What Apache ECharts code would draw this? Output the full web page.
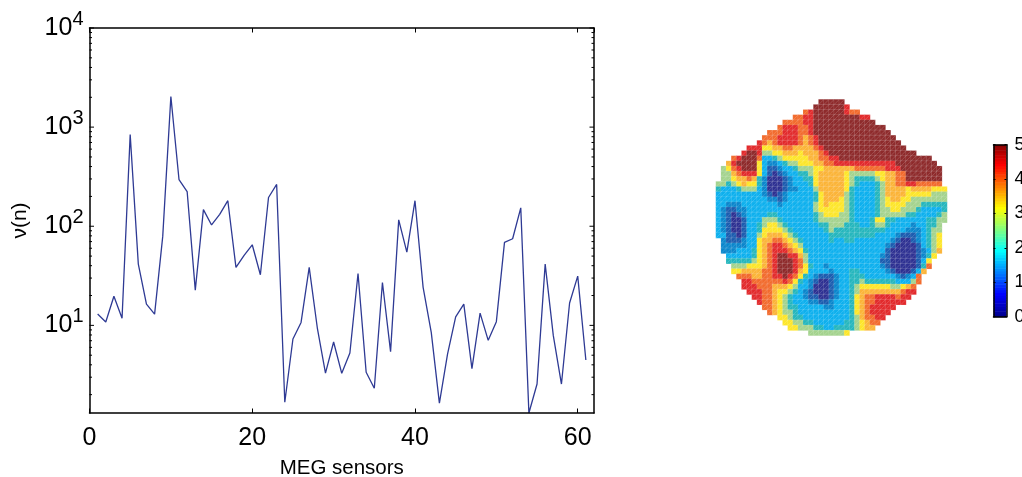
<!DOCTYPE html>
<html><head><meta charset="utf-8">
<style>html,body{margin:0;padding:0;background:#fff}#c{width:1022px;height:477px}</style>
<script src="https://cdn.jsdelivr.net/npm/echarts@6/dist/echarts.min.js"></script>
</head><body><div id="c"></div>
<script>
const sensors = [1,2,3,4,5,6,7,8,9,10,11,12,13,14,15,16,17,18,19,20,21,22,23,24,25,26,27,28,29,30,31,32,33,34,35,36,37,38,39,40,41,42,43,44,45,46,47,48,49,50,51,52,53,54,55,56,57,58,59,60,61];
const nuValues = [13.0,10.8,19.7,11.8,842,41.5,16.4,13.0,79,2034,296,224,22.7,147,103,132,181,38.4,50.8,65,32.4,195,264,1.675,7.28,10.7,38.4,9.4,3.3,6.8,3.28,5.26,33.4,3.36,2.32,27.1,5.43,116,54.8,181,24.2,8.5,1.64,5.14,12.2,16.4,3.66,13.3,7.06,10.9,68.7,74.8,153.5,1.306,2.56,41.5,7.87,2.56,16.8,31.4,4.47];
const yMajorTicks = [10,100,1000,10000];
const yMinorTicks = [2,3,4,5,6,7,8,9,20,30,40,50,60,70,80,90,200,300,400,500,600,700,800,900,2000,3000,4000,5000,6000,7000,8000,9000];
const xMin = 0, xMax = 62, yMin = 1.306, yMax = 10000;
// Cell levels of the sensor map, one string per row (. = no cell, spaces only group the text)
const heatRows = [
"....................aaaaa",
"...................aaaaaa9",
".................89aaaaaa988",
"...............8899aaaaaaaaa99",
".............888899aaaaaaaaaaaa",
"............8999889aaaaaaaaaaaaaa",
"..........888 999 88 9 aaaaaaaaaaaaaaa",
".........888 9999 878 9 aaaaaaaaaaaaaaa",
"........9878 9999 878 9 aaaaaaaaaaaaaaaa",
"......999 66 77 88 7777 8 9 aaaaaaaaaaaaaaaa",
".....9aa9 55 66 777 6 777 8 9 aaaaaaaaaaaaaaaaa",
"...89aaa8 33 45 66666 77 88 99 aaaaaaaaaaaaaaaaaa",
"..79aaaa6 322 34 55 666 77 88 999999999999 aaaaaaaa",
".5689aaa6 3112 33 4 555 66 777777 888888 999 aaaaaaaa",
".5578999 6 3 1012 33 44 5 6 77 777 6 55555 66 77 88 aaaaaaa",
".5567787 42 000 12 33 44 6 77 777 6 5 4444 5 6 77 88 aaaaaaa",
"55456 76642 00012 33346 77777 65433 34577 88998 8888",
"43334 55532 00012 23335 77777 64333 34577 77677 77666",
"33333 33332 10123 33334 67777 54333 34577 77666 66555",
"33333 33333 22123 33334 67776 54333 34567 76655 55555",
"33222 33333 33233 33335 67666 54333 34566 66555 44444",
"32112 23333 33333 33335 66666 54333 34556 65554 33334",
"32101 23333 44333 33334 56665 54333 34555 55443 33345",
"32100 13335 55433 33334 55555 54333 46644 33333 34455",
"32100 13345 66543 33333 44555 44433 45543 33323 3445",
"32100 13346 66654 33333 34544 44444 44433 33222 3455",
"33110 13356 77765 43333 33444 44444 43333 21112 3456",
".2111 23367 78876 54333 33433 44333 33332 10012 3456",
".2222 23367 89987 65333 33333 33333 33321 00001 3456",
".2223 33467 89998 76433 33333 33333 33310 00001 2357",
"..333 33467 89aa9 97533 33333 33333 33210 00001 246",
"..444 44567 89aaa 98533 33333 33333 33110 00001 36",
"...55 56667 89aaa 98643 32333 33333 33210 00001 48",
"...66 77778 89aaa 97633 33233 34433 33321 00013 7",
"....8 88778 899a9 86432 11123 34443 33333 21238",
"..... 99888 88898 64321 00123 34454 44444 33358",
"..... 99988 87776 53320 00123 34566 66665 5678",
"..... .9998 87665 43210 00123 34577 77777 7899",
"..... ..998 87654 33211 00123 34678 89999 899",
"..... ...98 87654 33322 11233 34678 89999 99",
"..... ....8 87654 43333 32233 34678 99999",
"..... ..... 87655 43333 33333 34678 9999",
"..... ..... ..665 44333 33333 34578 899",
"..... ..... ...66 55443 33333 44567 88",
"..... ..... ....6 65554 43344 44567 7",
"..... ..... ..... ...55 55555 6"
];
const levelValues = {'0':0,'1':0.5,'2':1,'3':1.5,'4':2,'5':2.5,'6':3,'7':3.5,'8':4,'9':4.5,'a':5};
const heatPalette = ['#2e3192','#1c5caf','#0a86cc','#0db0ee','#25b6bd','#a4d38e','#fde62a','#fbb438','#f26b2d','#e22a2c','#8e2a2b'];
const colorbarEdges = [0,0.08,0.16,0.23,0.31,0.39,0.47,0.55,0.63,0.70,0.78,0.86,0.94,1.02,1.09,1.17,1.25,1.33,1.41,1.48,1.56,1.64,1.72,1.80,1.88,1.95,2.03,2.11,2.19,2.27,2.34,2.42,2.50,2.58,2.66,2.73,2.81,2.89,2.97,3.05,3.13,3.20,3.28,3.36,3.44,3.52,3.59,3.67,3.75,3.83,3.91,3.98,4.06,4.14,4.22,4.30,4.38,4.45,4.53,4.61,4.69,4.77,4.84,4.92,5.00];
const jetStops = ['#00008f','#0000ff','#0080ff','#00ffff','#80ff80','#ffff00','#ff8000','#ff0000','#800000'];

const heatData = [];
heatRows.forEach((row, r) => {
  [...row.replace(/ /g, '')].forEach((ch, c) => {
    if (ch !== '.') heatData.push([c, r, levelValues[ch]]);
  });
});
const colCats = Array.from({length: 45}, (_, i) => String(i));
const rowCats = Array.from({length: 46}, (_, i) => String(i));
const cbData = colorbarEdges.slice(0, -1).map((lo, i) => [lo, colorbarEdges[i + 1]]);
const tickData = yMajorTicks.map(v => [v, 4.5]).concat(yMinorTicks.map(v => [v, 2.5]));
const font = '"Liberation Sans", Arial, sans-serif';
const axisLine = {show:true, onZero:false, lineStyle:{color:'#000', width:1.5}};

const option = {
  animation:false, backgroundColor:'#fff',
  textStyle:{fontFamily:font},
  grid:[
    {left:89.5, top:28, width:504.5, height:385, outerBoundsMode:'none'},
    {left:716, top:99.5, width:231, height:236, outerBoundsMode:'none'},
    {left:993.5, top:144.7, width:13, height:172, outerBoundsMode:'none'}
  ],
  xAxis:[
    {type:'value', gridIndex:0, min:xMin, max:xMax, interval:20, position:'bottom', z:5,
     name:'MEG sensors', nameLocation:'middle', nameGap:45, nameTextStyle:{fontSize:20.5, color:'#000', fontFamily:font},
     axisLine, axisTick:{inside:true, length:4.5, lineStyle:{color:'#000', width:1}},
     splitLine:{show:false}, axisLabel:{fontSize:25, color:'#000', margin:13, fontFamily:font, showMaxLabel:false,
       formatter:v => v === xMax ? '' : String(v)}},
    {type:'value', gridIndex:0, min:xMin, max:xMax, interval:20, position:'top', z:5,
     axisLine, axisTick:{inside:true, length:4.5, lineStyle:{color:'#000', width:1}},
     splitLine:{show:false}, axisLabel:{show:false}},
    {type:'category', gridIndex:1, data:colCats, show:false},
    {type:'value', gridIndex:2, min:0, max:1, position:'bottom', z:5, axisLine, axisTick:{show:false}, axisLabel:{show:false}, splitLine:{show:false}},
    {type:'value', gridIndex:2, min:0, max:1, position:'top', z:5, axisLine, axisTick:{show:false}, axisLabel:{show:false}, splitLine:{show:false}}
  ],
  yAxis:[
    {type:'log', logBase:10, gridIndex:0, min:yMin, max:yMax, position:'left', z:5,
     name:'\u03bd(n)', nameLocation:'middle', nameGap:59, nameTextStyle:{fontSize:21, color:'#000', fontFamily:font},
     axisLine, axisTick:{show:false}, minorTick:{show:false}, splitLine:{show:false}, minorSplitLine:{show:false},
     axisLabel:{margin:6, fontFamily:font, color:'#000', showMinLabel:false,
       formatter:v => { const e = Math.round(Math.log10(v)); return Math.abs(Math.pow(10,e)-v) < 1e-6*v && e>=1 ? '{b|10}{s|'+e+'}' : ''; },
       rich:{b:{fontSize:25, color:'#000', fontFamily:font}, s:{fontSize:20, color:'#000', fontFamily:font, padding:[0,0,18,0]}}}},
    {type:'log', logBase:10, gridIndex:0, min:yMin, max:yMax, position:'right', z:5,
     axisLine, axisTick:{show:false}, minorTick:{show:false}, splitLine:{show:false}, minorSplitLine:{show:false}, axisLabel:{show:false}},
    {type:'category', gridIndex:1, data:rowCats, inverse:true, show:false},
    {type:'value', gridIndex:2, min:0, max:5, interval:1, position:'left', z:5, axisLine,
     axisTick:{inside:true, length:2, lineStyle:{color:'#000', width:1}}, axisLabel:{show:false}, splitLine:{show:false}},
    {type:'value', gridIndex:2, min:0, max:5, interval:1, position:'right', z:5, axisLine,
     axisTick:{inside:true, length:2, lineStyle:{color:'#000', width:1}}, splitLine:{show:false},
     axisLabel:{fontSize:18, color:'#000', margin:8, fontFamily:font}}
  ],
  visualMap:[
    {type:'continuous', show:false, seriesIndex:2, dimension:2, min:0, max:5, inRange:{color:heatPalette}},
    {type:'continuous', show:false, seriesIndex:4, dimension:0, min:0, max:5, inRange:{color:jetStops}}
  ],
  series:[
    {type:'line', xAxisIndex:0, yAxisIndex:0, data:sensors.map((s,i)=>[s,nuValues[i]]), symbol:'none', z:3, clip:false,
     lineStyle:{color:'#2e3a94', width:1.3}},
    {type:'custom', xAxisIndex:0, yAxisIndex:0, data:tickData, clip:false, silent:true, z:6, encode:{y:0},
     renderItem:(p, api) => {
       const v = api.value(0), len = api.value(1);
       const a = api.coord([xMin, v]), b = api.coord([xMax, v]);
       const st = {stroke:'#000', lineWidth:1};
       return {type:'group', children:[
         {type:'line', shape:{x1:a[0], y1:a[1], x2:a[0]+len, y2:a[1]}, style:st},
         {type:'line', shape:{x1:b[0], y1:b[1], x2:b[0]-len, y2:b[1]}, style:st}
       ]};
     }},
    {type:'heatmap', xAxisIndex:2, yAxisIndex:2, data:heatData, progressive:0, z:2, silent:true,
     itemStyle:{borderColor:'rgba(255,255,255,0.2)', borderWidth:0.6}},
    {type:'custom', xAxisIndex:2, yAxisIndex:2, data:heatData, silent:true, z:3, encode:{x:0,y:1},
     renderItem:(p, api) => {
       const pt = api.coord([api.value(0), api.value(1)]), s = api.size([1,1]);
       return {type:'line', shape:{x1:pt[0]-s[0]/2, y1:pt[1]+s[1]/2, x2:pt[0]+s[0]/2, y2:pt[1]-s[1]/2},
               style:{stroke:'rgba(255,255,255,0.28)', lineWidth:0.6}};
     }},
    {type:'custom', xAxisIndex:3, yAxisIndex:3, data:cbData, silent:true, z:2, encode:{y:[0,1]},
     renderItem:(p, api) => {
       const a = api.coord([0, api.value(0)]), b = api.coord([1, api.value(1)]);
       return {type:'rect', shape:{x:a[0], y:b[1], width:b[0]-a[0], height:a[1]-b[1]+0.5}, style:{fill:api.visual('color')}};
     }}
  ]
};
echarts.init(document.getElementById('c'), null, {renderer:'canvas'}).setOption(option);
</script></body></html>
